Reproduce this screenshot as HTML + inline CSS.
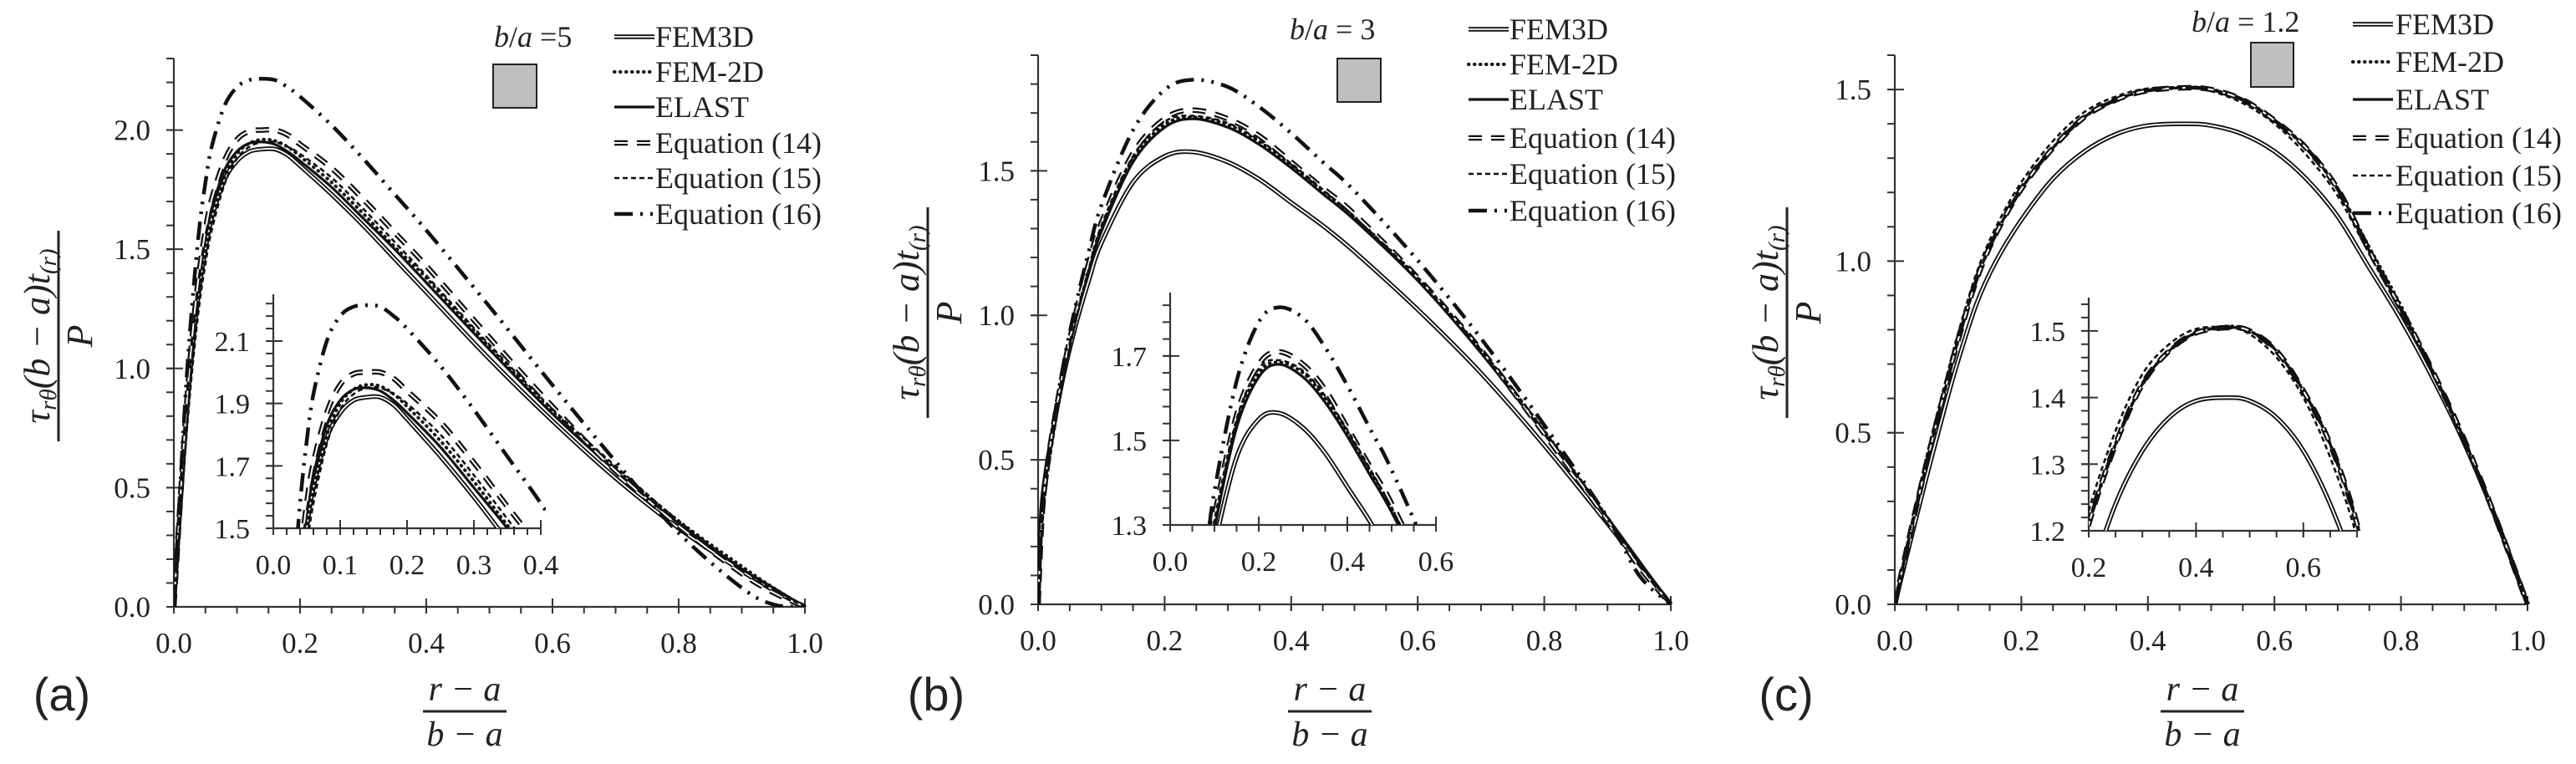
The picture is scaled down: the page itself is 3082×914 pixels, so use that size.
<!DOCTYPE html>
<html><head><meta charset="utf-8">
<style>
html,body{margin:0;padding:0;background:#fff;width:3082px;height:914px;overflow:hidden;}
svg{display:block;overflow:hidden;}
text{font-family:"Liberation Serif",serif;fill:#222;}
.sans{font-family:"Liberation Sans",sans-serif;}
</style></head>
<body>
<svg id="fig" width="3082" height="914" viewBox="0 0 3082 914" xmlns="http://www.w3.org/2000/svg"></svg>
<script>
// ---------------- DATA ----------------
const seriesNames = ["FEM3D","FEM-2D","ELAST","Equation (14)","Equation (15)","Equation (16)"];
// panel (a) b/a = 5
const xA = [0,0.005,0.01,0.02,0.03,0.04,0.05,0.06,0.08,0.1,0.12,0.14,0.16,0.18,0.2,0.25,0.3,0.35,0.4,0.5,0.6,0.7,0.8,0.9,0.95,1.0];
const aFEM3D = [0,0.22,0.42,0.8,1.1,1.33,1.5,1.63,1.79,1.87,1.91,1.92,1.92,1.895,1.85,1.73,1.60,1.46,1.32,1.04,0.78,0.54,0.33,0.15,0.07,0];
const aFEM2D = [0,0.2,0.4,0.78,1.08,1.31,1.49,1.62,1.8,1.9,1.945,1.96,1.955,1.93,1.89,1.78,1.65,1.51,1.38,1.09,0.82,0.58,0.36,0.17,0.08,0];
const aELAST = [0,0.24,0.46,0.85,1.15,1.38,1.55,1.67,1.83,1.91,1.945,1.95,1.94,1.91,1.87,1.76,1.63,1.50,1.36,1.08,0.81,0.57,0.35,0.16,0.08,0];
const aEq14 = [0,0.22,0.44,0.84,1.16,1.4,1.58,1.71,1.87,1.96,1.995,2.0,2.0,1.98,1.94,1.84,1.71,1.57,1.43,1.13,0.84,0.57,0.34,0.14,0.06,0];
const aEq15 = [0,0.18,0.36,0.72,1.02,1.26,1.44,1.58,1.77,1.88,1.93,1.95,1.95,1.93,1.9,1.80,1.67,1.53,1.39,1.1,0.83,0.59,0.36,0.16,0.07,0];
const aEq16 = [0,0.25,0.5,0.95,1.3,1.58,1.78,1.93,2.1,2.18,2.21,2.215,2.21,2.18,2.14,2.02,1.88,1.73,1.58,1.26,0.93,0.61,0.31,0.08,0.01,0];
// panel (b) b/a = 3
const xB = [0,0.005,0.01,0.02,0.04,0.06,0.08,0.1,0.15,0.2,0.245,0.3,0.35,0.4,0.45,0.5,0.6,0.7,0.8,0.9,0.95,1.0];
const bFEM3D = [0,0.3,0.42,0.56,0.79,0.97,1.12,1.25,1.46,1.55,1.565,1.53,1.47,1.39,1.31,1.22,1.02,0.8,0.55,0.28,0.14,0];
const bFEM2D = [0,0.25,0.38,0.54,0.79,0.99,1.16,1.3,1.54,1.66,1.685,1.66,1.60,1.52,1.43,1.34,1.13,0.88,0.60,0.3,0.14,0];
const bELAST = [0,0.3,0.42,0.56,0.8,0.99,1.15,1.29,1.53,1.65,1.68,1.65,1.59,1.51,1.42,1.33,1.12,0.87,0.59,0.3,0.15,0];
const bEq14 = [0,0.26,0.4,0.56,0.81,1.01,1.18,1.32,1.56,1.68,1.71,1.68,1.62,1.53,1.44,1.35,1.13,0.88,0.59,0.29,0.13,0];
const bEq15 = [0,0.22,0.35,0.52,0.78,0.99,1.16,1.31,1.55,1.67,1.69,1.665,1.605,1.525,1.435,1.34,1.13,0.88,0.60,0.3,0.14,0];
const bEq16 = [0,0.28,0.41,0.57,0.83,1.04,1.22,1.38,1.64,1.78,1.815,1.79,1.72,1.63,1.53,1.43,1.19,0.92,0.62,0.3,0.1,0];
// panel (c) b/a = 1.2
const xC = [0,0.02,0.05,0.08,0.1,0.13,0.16,0.2,0.25,0.3,0.35,0.4,0.46,0.5,0.55,0.6,0.65,0.7,0.75,0.8,0.85,0.9,0.95,1.0];
const cFEM3D = [0,0.15,0.37,0.58,0.71,0.88,1.0,1.12,1.24,1.32,1.37,1.395,1.40,1.395,1.37,1.32,1.24,1.13,0.98,0.83,0.66,0.47,0.25,0];
const cFEM2D = [0,0.17,0.41,0.63,0.77,0.95,1.08,1.21,1.33,1.42,1.47,1.497,1.507,1.5,1.47,1.41,1.33,1.21,1.04,0.87,0.68,0.48,0.25,0];
const cELAST = [0,0.17,0.41,0.63,0.77,0.95,1.08,1.21,1.33,1.42,1.47,1.497,1.505,1.5,1.47,1.41,1.33,1.21,1.03,0.86,0.68,0.48,0.25,0];
const cEq14 = [0,0.17,0.41,0.63,0.77,0.95,1.08,1.21,1.33,1.42,1.47,1.497,1.505,1.5,1.47,1.41,1.33,1.21,1.03,0.86,0.68,0.48,0.25,0];
const cEq15 = [0,0.18,0.43,0.65,0.79,0.97,1.10,1.23,1.35,1.435,1.48,1.503,1.505,1.495,1.46,1.40,1.31,1.19,1.02,0.85,0.67,0.47,0.24,0];
const cEq16 = [0,0.17,0.41,0.63,0.77,0.95,1.08,1.21,1.33,1.42,1.47,1.497,1.505,1.5,1.47,1.41,1.33,1.21,1.03,0.86,0.68,0.48,0.25,0];
// ticks
const mainXTicks = ["0.0","0.2","0.4","0.6","0.8","1.0"];
const aYTicks = ["0.0","0.5","1.0","1.5","2.0"];
const bYTicks = ["0.0","0.5","1.0","1.5"];
const cYTicks = ["0.0","0.5","1.0","1.5"];
const aInsetXTicks = ["0.0","0.1","0.2","0.3","0.4"];
const aInsetYTicks = ["1.5","1.7","1.9","2.1"];
const bInsetXTicks = ["0.0","0.2","0.4","0.6"];
const bInsetYTicks = ["1.3","1.5","1.7"];
const cInsetXTicks = ["0.2","0.4","0.6"];
const cInsetYTicks = ["1.2","1.3","1.4","1.5"];

// ---------------- LAYOUT ----------------
const NS = "http://www.w3.org/2000/svg";
const svg = document.getElementById("fig");
function el(tag, attrs, parent){
  const e = document.createElementNS(NS, tag);
  for (const k in attrs) e.setAttribute(k, attrs[k]);
  (parent||svg).appendChild(e);
  return e;
}
const styles = [
  [{w:5.5,c:"#111"},{w:1.8,c:"#fff"}],
  [{w:4,c:"#111",d:"0.5 6.5",cap:"round"}],
  [{w:3.2,c:"#111"}],
  [{w:6.5,c:"#111",d:"16 11"},{w:2,c:"#fff",d:"16 11"}],
  [{w:2.6,c:"#111",d:"6 4"}],
  [{w:4.5,c:"#111",d:"22 9 3 9 3 9"}]
];
const seriesKeys = ["fem3d","fem-2d","elast","equation-14","equation-15","equation-16"];

function pathD(xs, ys, sx, sy){
  const p = xs.map((x,i)=>[sx(x), sy(ys[i])]);
  let d = "M"+p[0][0].toFixed(1)+","+p[0][1].toFixed(1);
  for (let i=0;i<p.length-1;i++){
    const p0=p[Math.max(0,i-1)], p1=p[i], p2=p[i+1], p3=p[Math.min(p.length-1,i+2)];
    const c1=[p1[0]+(p2[0]-p0[0])/6, p1[1]+(p2[1]-p0[1])/6];
    const c2=[p2[0]-(p3[0]-p1[0])/6, p2[1]-(p3[1]-p1[1])/6];
    d+=" C"+c1[0].toFixed(1)+","+c1[1].toFixed(1)+" "+c2[0].toFixed(1)+","+c2[1].toFixed(1)+" "+p2[0].toFixed(1)+","+p2[1].toFixed(1);
  }
  return d;
}
function drawSeries(g, xs, ys, idx, sx, sy, panelId){
  const d = pathD(xs, ys, sx, sy);
  styles[idx].forEach(s=>{
    const p = el("path",{d:d,fill:"none",stroke:s.c,"stroke-width":s.w,"stroke-linejoin":"round","stroke-linecap":s.cap||"butt"},g);
    if (s.d) p.setAttribute("stroke-dasharray", s.d);
    
    
  });
}
function drawAxes(g, o){
  const sx = v => o.x0 + (v-o.xmin)/(o.xmax-o.xmin)*(o.x1-o.x0);
  const sy = v => o.y0 - (v-o.ymin)/(o.ymax-o.ymin)*(o.y0-o.ytop);
  const ax = el("g",{},g);
  
  
  el("line",{x1:o.x0,y1:o.y0,x2:o.x1,y2:o.y0,stroke:"#333","stroke-width":2.2},ax);
  el("line",{x1:o.x0,y1:o.y0,x2:o.x0,y2:o.ytop,stroke:"#333","stroke-width":2.2},ax);
  for (let v=o.xmin; v<=o.xmax+1e-9; v+=o.xMinor){
    el("line",{x1:sx(v),y1:o.y0,x2:sx(v),y2:o.y0+8,stroke:"#333","stroke-width":2},ax);
  }
  o.xTicks.forEach(t=>{
    const v=parseFloat(t), X=sx(v);
    el("line",{x1:X,y1:o.y0-10,x2:X,y2:o.y0+8,stroke:"#333","stroke-width":2},ax);
    const tx = el("text",{x:X,y:o.y0+55,"text-anchor":"middle","font-size":o.fs},ax);
    tx.textContent=t;
    
    
  });
  for (let v=o.ymin; v<=o.ymax+1e-9; v+=o.yMinor){
    el("line",{x1:o.x0-9,y1:sy(v),x2:o.x0,y2:sy(v),stroke:"#333","stroke-width":2},ax);
  }
  o.yTicks.forEach(t=>{
    const v=parseFloat(t), Y=sy(v);
    el("line",{x1:o.x0-9,y1:Y,x2:o.x0+11,y2:Y,stroke:"#333","stroke-width":2},ax);
    const ty = el("text",{x:o.x0-28,y:Y+12,"text-anchor":"end","font-size":o.fs},ax);
    ty.textContent=t;
    
    
  });
  return {sx,sy};
}
let clipN=0;
function plotArea(g, o, xs, ysets){
  const {sx,sy} = drawAxes(g,o);
  const cid="clip"+(clipN++);
  const cp = el("clipPath",{id:cid},g);
  el("rect",{x:o.x0,y:o.ytop-6,width:o.x1-o.x0+6,height:o.y0-o.ytop+6},cp);
  const lg = el("g",{"clip-path":"url(#"+cid+")"},g);
  
  
  ysets.forEach((ys,i)=>drawSeries(lg, xs, ys, i, sx, sy, o.id));
}
function legend(g, lx, tx, rows, id){
  rows.forEach((y,i)=>{
    const e = el("g",{},g);
    
    
    styles[i].forEach(s=>{
      const l = el("line",{x1:lx,y1:y,x2:lx+48,y2:y,stroke:s.c,"stroke-width":s.w,"stroke-linecap":s.cap||"butt"},e);
      if (s.d) l.setAttribute("stroke-dasharray", s.d);
    });
    const t = el("text",{x:tx,y:y+12,"font-size":36},e);
    t.textContent = seriesNames[i];
  });
}
function yTitle(g, lineX, cy, id){
  const gg = el("g",{transform:"translate("+lineX+","+cy+") rotate(-90)"},g);
  
  
  const t = el("text",{x:0,y:-11,"text-anchor":"middle","font-size":44,"font-style":"italic"},gg);
  t.innerHTML = 'τ<tspan font-size="29" dy="8">rθ</tspan><tspan dy="-8">(b − a)t</tspan><tspan font-size="29" dy="8">(r)</tspan>';
  el("line",{x1:-126,y1:0,x2:126,y2:0,stroke:"#222","stroke-width":3},gg);
  const p = el("text",{x:0,y:40,"text-anchor":"middle","font-size":44,"font-style":"italic"},gg);
  p.textContent="P";
}
function xTitle(g, cx, id){
  const gg = el("g",{},g);
  
  
  const t = el("text",{x:cx,y:838,"text-anchor":"middle","font-size":42,"font-style":"italic"},gg);
  t.textContent="r − a";
  el("line",{x1:cx-50,y1:851,x2:cx+50,y2:851,stroke:"#222","stroke-width":3},gg);
  const b = el("text",{x:cx,y:892,"text-anchor":"middle","font-size":42,"font-style":"italic"},gg);
  b.textContent="b − a";
}
function panelLabel(g, cx, txt, id){
  const t = el("text",{x:cx,y:850,"text-anchor":"middle","font-size":56,"class":"sans"},g);
  t.textContent=txt;
  
  
}
function ratioLabel(g, x, y, txt, sqx, sqy, sqw, sqh, id){
  const t = el("text",{x:x,y:y,"font-size":36},g);
  t.innerHTML = '<tspan font-style="italic">b</tspan>/<tspan font-style="italic">a</tspan>'+txt;
  
  
  const r = el("rect",{x:sqx,y:sqy,width:sqw,height:sqh,fill:"#bfbfbf",stroke:"#222","stroke-width":2},g);
  
  
}

// ---------- Panel A ----------
const gA = el("g",{});  
const A_sets=[aFEM3D,aFEM2D,aELAST,aEq14,aEq15,aEq16];
plotArea(gA,{id:"panel-a-main",x0:208,x1:963,y0:726,ytop:70,xmin:0,xmax:1,ymin:0,ymax:2.3,xTicks:mainXTicks,yTicks:aYTicks,xMinor:0.05,yMinor:0.1,fs:35},xA,A_sets);
plotArea(gA,{id:"panel-a-inset",x0:327,x1:647,y0:632,ytop:352,xmin:0,xmax:0.4,ymin:1.5,ymax:2.25,xTicks:aInsetXTicks,yTicks:aInsetYTicks,xMinor:0.02,yMinor:0.04,fs:34},xA,A_sets);
legend(gA,735,784,[44,86,128,171,213,256],"panel-a");
ratioLabel(gA,591,56," =5",590,77,52,52,"panel-a");
yTitle(gA,70,402,"panel-a");
xTitle(gA,556,"panel-a");
panelLabel(gA,74,"(a)","panel-a");

// ---------- Panel B ----------
const gB = el("g",{});  
const B_sets=[bFEM3D,bFEM2D,bELAST,bEq14,bEq15,bEq16];
plotArea(gB,{id:"panel-b-main",x0:1242,x1:1999,y0:723,ytop:66,xmin:0,xmax:1,ymin:0,ymax:1.9,xTicks:mainXTicks,yTicks:bYTicks,xMinor:0.05,yMinor:0.1,fs:35},xB,B_sets);
plotArea(gB,{id:"panel-b-inset",x0:1400,x1:1718,y0:628,ytop:350,xmin:0,xmax:0.6,ymin:1.3,ymax:1.85,xTicks:bInsetXTicks,yTicks:bInsetYTicks,xMinor:0.05,yMinor:0.04,fs:34},xB,B_sets);
legend(gB,1757,1806,[35,77,119,165,208,252],"panel-b");
ratioLabel(gB,1543,47," = 3",1600,70,52,52,"panel-b");
yTitle(gB,1110,374,"panel-b");
xTitle(gB,1591,"panel-b");
panelLabel(gB,1120,"(b)","panel-b");

// ---------- Panel C ----------
const gC = el("g",{});  
const C_sets=[cFEM3D,cFEM2D,cELAST,cEq14,cEq15,cEq16];
plotArea(gC,{id:"panel-c-main",x0:2267,x1:3024,y0:723,ytop:66,xmin:0,xmax:1,ymin:0,ymax:1.6,xTicks:mainXTicks,yTicks:cYTicks,xMinor:0.05,yMinor:0.1,fs:35},xC,C_sets);
plotArea(gC,{id:"panel-c-inset",x0:2499,x1:2820,y0:635,ytop:356,xmin:0.2,xmax:0.7,ymin:1.2,ymax:1.55,xTicks:cInsetXTicks,yTicks:cInsetYTicks,xMinor:0.05,yMinor:0.02,fs:34},xC,C_sets);
legend(gC,2815,2866,[29,74,119,165,210,255],"panel-c");
ratioLabel(gC,2622,38," = 1.2",2693,51,51,53,"panel-c");
yTitle(gC,2138,374,"panel-c");
xTitle(gC,2635,"panel-c");
panelLabel(gC,2137,"(c)","panel-c");
</script>
</body></html>
